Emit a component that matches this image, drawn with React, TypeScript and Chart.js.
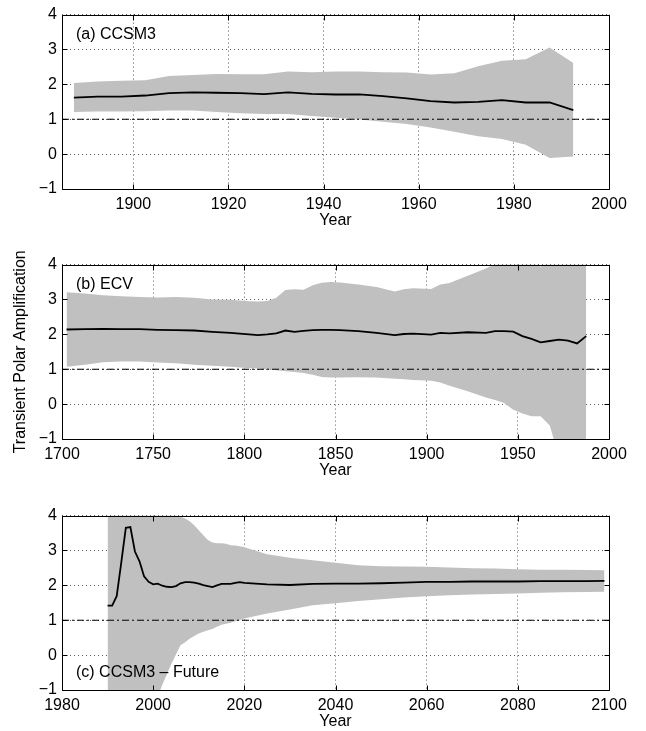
import React, { useEffect, useRef } from "react";
import { Chart, registerables } from "chart.js";

Chart.register(...registerables);

const FONT = '"Liberation Sans", Arial, Helvetica, sans-serif';
const GRAY = "rgb(192,192,192)";
const GRID = "rgba(0,0,0,0.65)";

// ---------------- Panel (a) CCSM3 ----------------
const yearsA = [1887.5, 1892.5, 1897.5, 1902.5, 1907.5, 1912.5, 1917.5, 1922.5, 1927.5, 1932.5, 1937.5,
  1942.5, 1947.5, 1952.5, 1957.5, 1962.5, 1967.5, 1972.5, 1977.5, 1982.5, 1987.5, 1992.5];
const meanA = [1.62, 1.65, 1.65, 1.68, 1.75, 1.77, 1.76, 1.75, 1.72, 1.77, 1.73,
  1.71, 1.71, 1.66, 1.6, 1.52, 1.48, 1.5, 1.55, 1.48, 1.48, 1.26];
const upperA = [2.04, 2.08, 2.1, 2.12, 2.24, 2.27, 2.3, 2.29, 2.29, 2.37, 2.35,
  2.37, 2.37, 2.35, 2.34, 2.28, 2.32, 2.52, 2.68, 2.72, 3.06, 2.61];
const lowerA = [1.21, 1.22, 1.22, 1.23, 1.25, 1.25, 1.21, 1.17, 1.15, 1.15, 1.09,
  1.04, 0.99, 0.93, 0.86, 0.76, 0.64, 0.51, 0.43, 0.27, -0.11, -0.07];
const xTicksA = [1900, 1920, 1940, 1960, 1980, 2000];

// ---------------- Panel (b) ECV ----------------
const yearsB = [1702.5, 1712.5, 1722.5, 1732.5, 1742.5, 1752.5, 1762.5, 1772.5, 1782.5, 1792.5,
  1802.5, 1807.5, 1812.5, 1817.5, 1822.5, 1827.5, 1832.5, 1837.5, 1842.5, 1847.5,
  1852.5, 1862.5, 1872.5, 1882.5, 1887.5, 1892.5, 1902.5, 1907.5, 1912.5, 1922.5,
  1932.5, 1937.5, 1942.5, 1947.5, 1952.5, 1957.5, 1962.5, 1967.5, 1972.5, 1977.5, 1982.5, 1987.5];
const meanB = [2.14, 2.15, 2.16, 2.15, 2.15, 2.13, 2.12, 2.11, 2.07, 2.04,
  2.0, 1.98, 2.0, 2.03, 2.11, 2.07, 2.1, 2.12, 2.13, 2.13,
  2.12, 2.09, 2.04, 1.98, 2.01, 2.02, 1.99, 2.04, 2.03, 2.06,
  2.04, 2.09, 2.09, 2.08, 1.95, 1.87, 1.77, 1.81, 1.85, 1.82, 1.74, 1.95];
const upperB = [3.21, 3.17, 3.12, 3.09, 3.07, 3.06, 3.07, 3.05, 3.0, 2.99,
  2.95, 2.94, 2.96, 3.05, 3.27, 3.29, 3.28, 3.41, 3.48, 3.5,
  3.49, 3.43, 3.36, 3.23, 3.29, 3.32, 3.3, 3.43, 3.47, 3.68,
  3.89, 4.02, 4.2, 4.3, 4.4, 4.2, 3.93, 4.5, 5.0, 5.5, 6.0, 6.5];
const lowerB = [1.07, 1.13, 1.2, 1.22, 1.22, 1.19, 1.17, 1.13, 1.1, 1.07,
  1.03, 1.02, 1.0, 0.97, 0.94, 0.92, 0.89, 0.84, 0.78, 0.76,
  0.76, 0.77, 0.76, 0.73, 0.71, 0.69, 0.67, 0.62, 0.53, 0.37,
  0.19, 0.12, 0.03, -0.16, -0.27, -0.35, -0.35, -0.61, -1.5, -2.0, -2.5, -3.0];
const xTicksB = [1700, 1750, 1800, 1850, 1900, 1950, 2000];

// ---------------- Panel (c) CCSM3 - Future ----------------
const yearsC = [1990, 1991, 1992, 1993, 1994, 1995, 1996, 1997, 1998, 1999,
  2000, 2001, 2002, 2003, 2004, 2005, 2006, 2007, 2008, 2009,
  2010, 2011, 2012, 2013, 2014, 2015, 2016, 2017, 2018, 2019,
  2020, 2025, 2030, 2035, 2040, 2045, 2050, 2055, 2060, 2065,
  2070, 2075, 2080, 2085, 2090, 2095, 2099];
const meanC = [1.42, 1.42, 1.69, 2.65, 3.65, 3.67, 2.97, 2.69, 2.26, 2.1,
  2.03, 2.05, 1.99, 1.96, 1.95, 1.98, 2.06, 2.09, 2.09, 2.08,
  2.05, 2.01, 1.98, 1.95, 2.0, 2.04, 2.04, 2.04, 2.07, 2.09,
  2.07, 2.03, 2.01, 2.04, 2.05, 2.05, 2.06, 2.08, 2.1, 2.1,
  2.11, 2.11, 2.11, 2.12, 2.12, 2.12, 2.13];
const upperC = [4.6, 4.6, 4.6, 4.6, 4.6, 4.6, 4.6, 4.6, 4.6, 4.6,
  4.6, 4.6, 4.5, 4.3, 4.1, 4.02, 3.97, 3.92, 3.84, 3.72,
  3.58, 3.44, 3.3, 3.23, 3.21, 3.21, 3.19, 3.15, 3.14, 3.12,
  3.09, 2.89, 2.79, 2.72, 2.65, 2.58, 2.55, 2.54, 2.53, 2.51,
  2.49, 2.48, 2.46, 2.45, 2.45, 2.44, 2.43];
const lowerC = [-3.0, -3.0, -3.0, -3.0, -3.0, -3.0, -3.0, -3.0, -3.0, -3.0,
  -3.0, -1.2, -0.85, -0.55, -0.25, 0.02, 0.28, 0.37, 0.47, 0.55,
  0.62, 0.67, 0.71, 0.75, 0.81, 0.87, 0.9, 0.93, 0.97, 1.0,
  1.05, 1.19, 1.31, 1.43, 1.49, 1.55, 1.6, 1.65, 1.69, 1.72,
  1.74, 1.75, 1.77, 1.79, 1.8, 1.81, 1.82];
const xTicksC = [1980, 2000, 2020, 2040, 2060, 2080, 2100];

const yTicks = [-1, 0, 1, 2, 3, 4];
const refLevel = 1;

type PanelProps = {
  years: number[];
  mean: number[];
  upper: number[];
  lower: number[];
  xMin: number;
  xMax: number;
  xTicks: number[];
  label: string;
  labelAtBottom: boolean;
  yTitle: string;
  top: number;
};

const framePlugin = {
  id: "frame",
  afterDatasetsDraw(chart: any, _args: any, opts: any) {
    const { ctx, chartArea: a, scales } = chart;
    const x = scales.x;
    const y = scales.y;
    ctx.save();
    ctx.strokeStyle = "#000";
    ctx.lineWidth = 1;
    const L = Math.round(a.left) + 0.5;
    const R = Math.round(a.right) + 0.5;
    const T = Math.round(a.top) + 0.5;
    const B = Math.round(a.bottom) + 0.5;
    ctx.beginPath();
    ctx.rect(L, T, R - L, B - T);
    ctx.stroke();
    const tl = 5;
    ctx.beginPath();
    x.ticks.forEach((t: any) => {
      const px = Math.round(x.getPixelForValue(t.value)) + 0.5;
      ctx.moveTo(px, B);
      ctx.lineTo(px, B - tl);
      ctx.moveTo(px, T);
      ctx.lineTo(px, T + tl);
    });
    y.ticks.forEach((t: any) => {
      const py = Math.round(y.getPixelForValue(t.value)) + 0.5;
      ctx.moveTo(L, py);
      ctx.lineTo(L + tl, py);
      ctx.moveTo(R, py);
      ctx.lineTo(R - tl, py);
    });
    ctx.stroke();
    ctx.fillStyle = "#000";
    ctx.font = `16px ${FONT}`;
    ctx.textAlign = "left";
    ctx.textBaseline = "middle";
    const ly = opts.labelAtBottom ? a.bottom - 17 : a.top + 20;
    ctx.fillText(opts.label, a.left + 14, ly);
    ctx.restore();
  },
};

function Panel(p: PanelProps) {
  const ref = useRef<HTMLCanvasElement | null>(null);
  useEffect(() => {
    if (!ref.current) return;
    const pts = (ys: number[]) => p.years.map((x, i) => ({ x, y: ys[i] }));
    const chart = new Chart(ref.current, {
      type: "line",
      data: {
        datasets: [
          {
            data: pts(p.upper),
            order: 4,
            borderWidth: 0,
            borderColor: "rgba(0,0,0,0)",
            backgroundColor: GRAY,
            pointRadius: 0,
            fill: "+1",
            tension: 0,
          },
          {
            data: pts(p.lower),
            order: 3,
            borderWidth: 0,
            borderColor: "rgba(0,0,0,0)",
            pointRadius: 0,
            fill: false,
            tension: 0,
          },
          {
            data: [
              { x: p.xMin, y: refLevel },
              { x: p.xMax, y: refLevel },
            ],
            order: 2,
            borderColor: "#000",
            borderWidth: 1,
            borderDash: [7, 3, 2, 3],
            pointRadius: 0,
            fill: false,
          },
          {
            data: pts(p.mean),
            order: 1,
            borderColor: "#000",
            borderWidth: 1.8,
            pointRadius: 0,
            fill: false,
            tension: 0,
          },
        ],
      } as any,
      options: {
        animation: false,
        responsive: false,
        maintainAspectRatio: false,
        devicePixelRatio: 1,
        events: [],
        layout: { padding: { top: 7, right: 37, left: 0, bottom: 0 } },
        plugins: {
          legend: { display: false },
          tooltip: { enabled: false },
          frame: { label: p.label, labelAtBottom: p.labelAtBottom },
        } as any,
        scales: {
          x: {
            type: "linear",
            min: p.xMin,
            max: p.xMax,
            afterBuildTicks: (s: any) => {
              s.ticks = p.xTicks.map((v) => ({ value: v }));
            },
            afterFit: (s: any) => {
              s.height = 41;
            },
            grid: { color: GRID, lineWidth: 1, drawTicks: false },
            border: { display: false, dash: [1, 3] },
            ticks: {
              color: "#000",
              font: { family: FONT, size: 16 },
              padding: 6,
              maxRotation: 0,
              autoSkip: false,
              callback: (v: any) => String(v),
            },
            title: {
              display: true,
              text: "Year",
              color: "#000",
              font: { family: FONT, size: 16 },
              padding: { top: 0, bottom: 0 },
            },
          },
          y: {
            type: "linear",
            min: -1,
            max: 4,
            afterBuildTicks: (s: any) => {
              s.ticks = yTicks.map((v) => ({ value: v }));
            },
            afterFit: (s: any) => {
              s.width = 62;
            },
            grid: { color: GRID, lineWidth: 1, drawTicks: false },
            border: { display: false, dash: [1, 3] },
            ticks: {
              color: "#000",
              font: { family: FONT, size: 16 },
              padding: 5,
              callback: (v: any) => (v < 0 ? "\u2212" + Math.abs(v) : String(v)),
            },
            title: {
              display: p.yTitle !== "",
              text: p.yTitle,
              color: "#000",
              font: { family: FONT, size: 16 },
              padding: { top: 11, bottom: 0 },
            },
          },
        },
      } as any,
      plugins: [framePlugin],
    });
    return () => chart.destroy();
  }, []);
  return (
    <canvas
      ref={ref}
      width={646}
      height={230}
      style={{ position: "absolute", left: 0, top: p.top, width: 646, height: 230 }}
    />
  );
}

export default function App() {
  return (
    <div
      style={{
        position: "fixed",
        left: 0,
        top: 0,
        width: 646,
        height: 731,
        background: "#fff",
        overflow: "hidden",
      }}
    >
      <Panel years={yearsA} mean={meanA} upper={upperA} lower={lowerA} xMin={1885} xMax={2000}
        xTicks={xTicksA} label="(a) CCSM3" labelAtBottom={false} yTitle="" top={0} />
      <Panel years={yearsB} mean={meanB} upper={upperB} lower={lowerB} xMin={1700} xMax={2000}
        xTicks={xTicksB} label="(b) ECV" labelAtBottom={false} yTitle="Transient Polar Amplification" top={250} />
      <Panel years={yearsC} mean={meanC} upper={upperC} lower={lowerC} xMin={1980} xMax={2100}
        xTicks={xTicksC} label={"(c) CCSM3 \u2013 Future"} labelAtBottom={true} yTitle="" top={501} />
    </div>
  );
}
